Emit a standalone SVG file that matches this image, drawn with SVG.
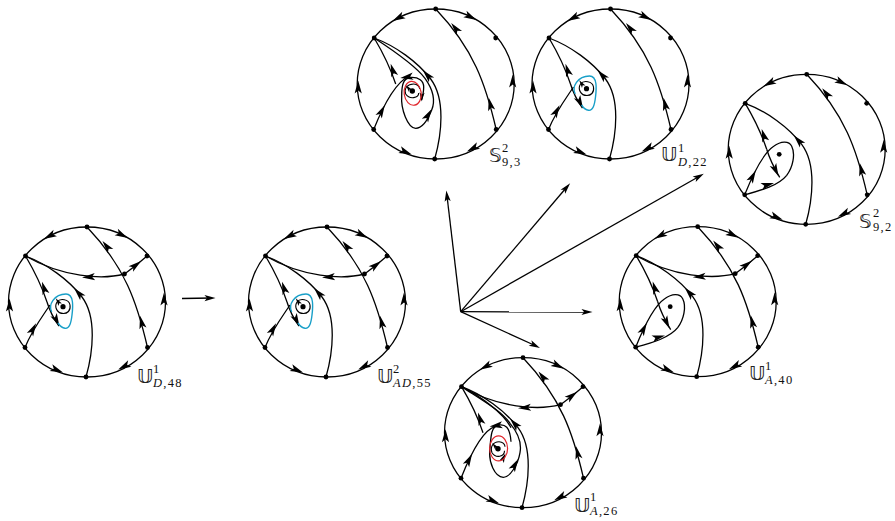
<svg xmlns="http://www.w3.org/2000/svg" xmlns:xlink="http://www.w3.org/1999/xlink" width="895" height="521" viewBox="0 0 895 521">
<style>
.l{fill:none;stroke:#000;stroke-width:1.3}
.t{fill:none;stroke:#000;stroke-width:1.1}
.b{fill:none;stroke:#189fc8;stroke-width:1.4}
.r{fill:none;stroke:#e0242a;stroke-width:1.2}
.bb{font-family:"DejaVu Sans",sans-serif;font-size:20px;fill:#222}
.s{font-family:"Liberation Serif",serif;font-size:12.5px;letter-spacing:1.3px;fill:#111}
.i{font-style:italic}
</style>
<defs>
<path id="h" d="M6.5,0 L-6.5,-3.6 L-3.5,0 L-6.5,3.6 Z"/>
<circle id="d" r="2.4"/>
<g id="ring">
<ellipse class="l" rx="78.5" ry="75"/>
<path class="l" d="M60.5,45.5 C50,0 38,-35 0,-75"/>
<use href="#d" y="-75"/><use href="#d" x="-61.5" y="-46"/><use href="#d" x="60" y="-46"/><use href="#d" x="-62" y="45.5"/><use href="#d" x="60.5" y="45.5"/><use href="#d" x="-1" y="75"/>
<use href="#h" transform="translate(-37.5,-66) rotate(152)"/>
<use href="#h" transform="translate(35,-67) rotate(27)"/>
<use href="#h" transform="translate(77,-3) rotate(-90)"/>
<use href="#h" transform="translate(37,64.5) rotate(153)"/>
<use href="#h" transform="translate(-30,68) rotate(22)"/>
<use href="#h" transform="translate(-77.5,3) rotate(-90)"/>
<use href="#h" transform="translate(54.5,20) rotate(-103)"/>
<use href="#h" transform="translate(19.5,-56) rotate(-128)"/>
</g>
<g id="cross">
<path class="l" d="M60,-46 Q50,-37 37.5,-28 C15,-22 -25,-25 -61.5,-46"/>
<use href="#d" x="37.5" y="-28"/>
<use href="#h" transform="translate(49,-37) rotate(-38)"/>
<use href="#h" transform="translate(1.5,-25) rotate(176)"/>
</g>
<g id="bot">
<path class="l" d="M-1,75 C6,50 10,15 -5,-5 C-18,-22 -40,-38 -61.5,-46"/>
<use href="#h" transform="translate(-8.5,-9) rotate(-132)"/>
</g>
<g id="left">
<path class="l" d="M-61.5,-46 C-52,-30 -45,-15 -40,0"/>
<use href="#h" transform="translate(-43,-14) rotate(-108)"/>
<use href="#h" transform="translate(-54,27) rotate(-62)"/>
</g>
<g id="blue">
<path class="l" d="M-62,45.5 C-55,28 -45,15 -37,3"/>
<path class="l" d="M-40,0 C-37,10 -33,17 -28,24"/>
<use href="#h" transform="translate(-30.5,18.5) rotate(63)"/>
<path class="b" d="M-35.3,10 C-39,3 -33,-8 -21,-8 C-13,-8 -14,5 -15,13 C-16,22 -18,27 -22,26.3 C-25,26 -27,24 -29,21"/>
<circle r="2.6" cx="-24" cy="4.7"/>
<path class="t" d="M-23.5,11.5 C-30,11.5 -33,5 -30,0 C-27,-4 -18,-3 -17,3 C-16,9 -20,11.5 -23.5,11.5"/>
<use href="#h" transform="translate(-29,-0.5) rotate(-125) scale(.6)"/>
</g>
<g id="plain">
<path class="l" d="M-62,45.5 C-55,28 -45,5 -33,-3 C-26,-8 -18,-9 -15,-3 C-11,5 -14,18 -20,26 C-28,36 -45,41 -62,45.5"/>
<path class="l" d="M-40,0 C-37,10 -33,18 -27,28"/>
<use href="#h" transform="translate(-31,21) rotate(65)"/>
<use href="#h" transform="translate(-39,35.5) rotate(-15)"/>
<circle r="2.4" cx="-27.5" cy="5"/>
</g>
</defs>

<g id="connectors">
<g class="l">
<path d="M182,298.5 L212,298"/>
<path d="M460.7,311.7 L447,196"/>
<path d="M460.7,311.7 L566,188"/>
<path d="M460.7,311.7 L699,176.5"/>
<path d="M460.7,311.7 L587,312"/>
<path d="M460.7,311.7 L535,345.5"/>
</g>
<use href="#h" transform="translate(210,298) rotate(-1) scale(.85)"/>
<use href="#h" transform="translate(447,196) rotate(-97) scale(.85)"/>
<use href="#h" transform="translate(566.5,187.5) rotate(-49) scale(.85)"/>
<use href="#h" transform="translate(699,176.5) rotate(-29.5) scale(.85)"/>
<use href="#h" transform="translate(587,312) scale(.85)"/>
<use href="#h" transform="translate(535,345.5) rotate(26) scale(.85)"/>
</g>

<g id="U-D-48">
<g transform="translate(87,302)"><use href="#ring"/><use href="#cross"/><use href="#bot"/><use href="#left"/><use href="#blue"/></g>
<text class="bb" x="137" y="383">𝕌</text><text class="s" x="153" y="373">1</text><text class="s" x="153" y="387"><tspan class="i">D</tspan>,48</text>
</g>

<g id="U-AD-55">
<g transform="translate(327,302)"><use href="#ring"/><use href="#cross"/><use href="#bot"/><use href="#left"/><use href="#blue"/></g>
<text class="bb" x="377" y="383">𝕌</text><text class="s" x="393" y="373">2</text><text class="s" x="393" y="387"><tspan class="i">AD</tspan>,55</text>
</g>

<g id="S-9-3">
<g transform="translate(435.7,84)"><use href="#ring"/><use href="#bot"/><use href="#left"/>
<path class="l" d="M-62,45.5 C-55,28 -42,0 -27,-8"/>
<path class="l" d="M-61.5,-46 C-40,-32 -20,-18 -10.7,-5.7 C-3,5 0,16 -4,26 C-8,36 -14,44.3 -20,44.3 C-28,44 -35,25 -34,12 C-34,2 -33,-6 -25,-6.5 C-17,-7 -12,-3 -12,3 C-12,8 -13,12 -14,16"/>
<use href="#h" transform="translate(-7.5,31) rotate(-60)"/>
<use href="#h" transform="translate(-29,-7) rotate(172)"/>
<use href="#h" transform="translate(-14,13) rotate(95) scale(.7)"/>
<circle r="2.7" cx="-23.4" cy="7"/>
<path class="t" d="M-17,9 C-17,14 -26,16 -30,10 C-32,4 -28,0 -22,0 C-18,0 -16,3 -16,5"/>
<use href="#h" transform="translate(-27.5,4) rotate(-130) scale(.55)"/>
<ellipse class="r" cx="-23" cy="9.3" rx="8.5" ry="12" transform="rotate(-8 -23 9.3)"/></g>
<text class="bb" x="489" y="162">𝕊</text><text class="s" x="502" y="152">2</text><text class="s" x="502" y="166">9,3</text>
</g>

<g id="U-D-22">
<g transform="translate(610.5,84)"><use href="#ring"/><use href="#bot"/><use href="#left"/><use href="#blue"/></g>
<text class="bb" x="661" y="161">𝕌</text><text class="s" x="678" y="152">1</text><text class="s" x="678" y="166"><tspan class="i">D</tspan>,22</text>
</g>

<g id="S-9-2">
<g transform="translate(806.7,149.3)"><use href="#ring"/><use href="#bot"/><use href="#left"/><use href="#plain"/></g>
<text class="bb" x="859" y="228">𝕊</text><text class="s" x="873" y="217">2</text><text class="s" x="873" y="231">9,2</text>
</g>

<g id="U-A-40">
<g transform="translate(697.7,301.7)"><use href="#ring"/><use href="#cross"/><use href="#bot"/><use href="#left"/><use href="#plain"/></g>
<text class="bb" x="749" y="380">𝕌</text><text class="s" x="765" y="370">1</text><text class="s" x="765" y="384"><tspan class="i">A</tspan>,40</text>
</g>

<g id="U-A-26">
<g transform="translate(523,432.7)"><use href="#ring"/><use href="#cross"/><use href="#bot"/><use href="#left"/>
<path class="l" d="M-62,45.5 C-55,28 -42,-2 -28,-6"/>
<path class="l" d="M-61.5,-46 C-40,-32 -22,-22 -13,-9.4 C-5,0 -1,9 -3,20 C-5,32 -13,44.6 -19.7,44.6 C-28,44 -35,30 -33,15 C-32,3 -32,-5 -25,-7.5 C-18,-9 -13,-6 -12,9"/>
<path class="l" d="M-61.5,-46 C-42,-36 -20,-20 -12,-5"/>
<use href="#h" transform="translate(-8,32) rotate(-60)"/>
<use href="#h" transform="translate(-27,-7) rotate(172)"/>
<use href="#h" transform="translate(-19.5,25) rotate(-65) scale(.7)"/>
<circle r="2.7" cx="-25" cy="16"/>
<path class="t" d="M-18.5,18 C-18.5,24 -27,26 -31,20 C-33,14 -30,9 -24,9 C-20,9 -18,12 -18,14"/>
<use href="#h" transform="translate(-28.5,13) rotate(-130) scale(.55)"/>
<ellipse class="r" cx="-24.4" cy="15.7" rx="9" ry="12.5"/></g>
<text class="bb" x="574" y="512">𝕌</text><text class="s" x="590" y="501">1</text><text class="s" x="590" y="515"><tspan class="i">A</tspan>,26</text>
</g>
</svg>
